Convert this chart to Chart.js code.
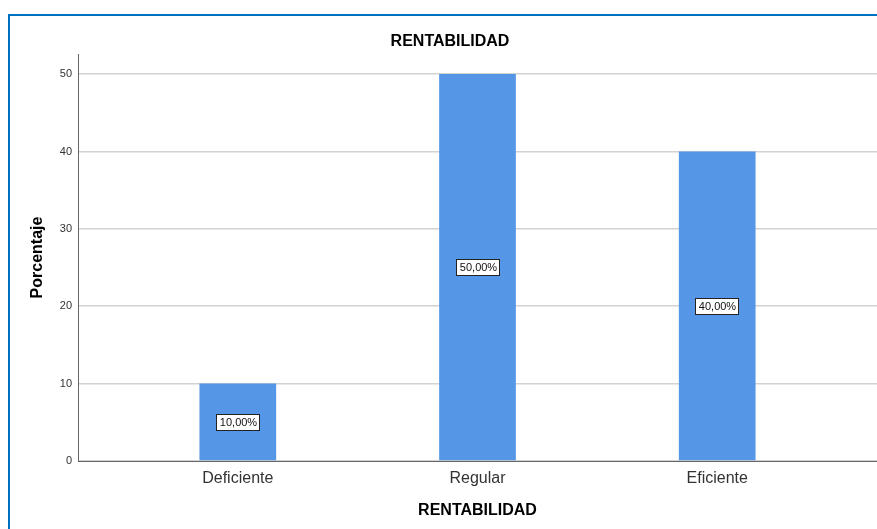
<!DOCTYPE html>
<html>
<head>
<meta charset="utf-8">
<script src="https://cdn.jsdelivr.net/npm/chart.js@4"></script>
<style>
  body { margin: 0; background: #fff; overflow: hidden; }
  #frame { position: absolute; left: 8px; top: 14px; width: 900px; height: 600px;
           border-left: 2px solid #0070C0; border-top: 2px solid #0070C0; }
  #wrap { position: absolute; left: 0; top: 0; width: 877px; height: 529px; }
</style>
</head>
<body>
<div id="frame"></div>
<div id="wrap"><canvas id="myChart"></canvas></div>
<script>
var chartTitle = 'RENTABILIDAD';
var xTitle = 'RENTABILIDAD';
var yTitle = 'Porcentaje';
var categories = ['Deficiente', 'Regular', 'Eficiente'];
var percentages = [10, 50, 40];
var yTicks = [0, 10, 20, 30, 40, 50];

var fam = '"Liberation Sans", Arial, sans-serif';

// main title, centred on the whole spss frame rather than the canvas
var topTitle = {
  id: 'topTitle',
  afterDraw: function(chart) {
    var ctx = chart.ctx;
    ctx.save();
    ctx.font = 'bold 16px ' + fam;
    ctx.fillStyle = '#000';
    ctx.textAlign = 'center';
    ctx.textBaseline = 'middle';
    ctx.fillText(chartTitle, 450, 42);
    ctx.restore();
  }
};

// boxed percentage labels in the middle of each bar
var barLabels = {
  id: 'barLabels',
  afterDatasetsDraw: function(chart) {
    var ctx = chart.ctx;
    var meta = chart.getDatasetMeta(0);
    ctx.save();
    ctx.font = '11px ' + fam;
    ctx.textAlign = 'center';
    ctx.textBaseline = 'middle';
    meta.data.forEach(function(bar, i) {
      var text = percentages[i].toFixed(2).replace('.', ',') + '%';
      var cy = Math.round((bar.y + bar.base) / 2);
      var cx = Math.round(bar.x);
      var w = Math.round(ctx.measureText(text).width) + 6;
      var h = 16;
      var left = cx - Math.round(w / 2);
      var top = cy - h / 2;
      ctx.fillStyle = '#fff';
      ctx.fillRect(left, top, w, h);
      ctx.strokeStyle = '#222';
      ctx.lineWidth = 1;
      ctx.strokeRect(left + 0.5, top + 0.5, w, h);
      ctx.fillStyle = '#111';
      ctx.fillText(text, cx + 0.5, cy + 1);
    });
    ctx.restore();
  }
};

var points = categories.map(function(c, i) {
  return { x: i, y: percentages[i] };
});

var ctx = document.getElementById('myChart').getContext('2d');
var chart = new Chart(ctx, {
  type: 'bar',
  data: {
    datasets: [{
      label: yTitle,
      data: points,
      backgroundColor: '#5596E6',
      borderWidth: 0,
      barPercentage: 0.32,
      categoryPercentage: 1
    }]
  },
  plugins: [topTitle, barLabels],
  options: {
    responsive: true,
    maintainAspectRatio: false,
    animation: false,
    devicePixelRatio: 1,
    layout: { padding: { top: 54, left: 0, right: 0, bottom: 0 } },
    plugins: {
      legend: { display: false },
      tooltip: { enabled: false },
      title: { display: false }
    },
    scales: {
      x: {
        type: 'linear',
        offset: false,
        min: -2 / 3,
        max: 8 / 3,
        z: 1,
        afterBuildTicks: function(scale) {
          scale.ticks = categories.map(function(c, i) { return { value: i }; });
        },
        afterFit: function(scale) { scale.height = 68; },
        ticks: {
          callback: function(v) { return categories[v]; },
          font: { size: 16, family: fam },
          color: '#333',
          padding: 8,
          autoSkip: false,
          maxRotation: 0
        },
        grid: { display: false, drawTicks: false },
        border: { color: '#666', width: 1 },
        title: {
          display: true,
          text: xTitle,
          color: '#000',
          font: { size: 16, weight: 'bold', family: fam },
          padding: { top: 0, bottom: 9 }
        }
      },
      y: {
        min: 0,
        max: 52.6,
        afterBuildTicks: function(scale) {
          scale.ticks = yTicks.map(function(v) { return { value: v }; });
        },
        afterFit: function(scale) { scale.width = 78; },
        ticks: {
          font: { size: 11, family: fam },
          color: '#333',
          padding: 6
        },
        grid: { color: '#d2d2d2', lineWidth: 1.5, drawTicks: false },
        border: { color: '#666', width: 1 },
        title: {
          display: true,
          text: yTitle,
          color: '#000',
          font: { size: 16, weight: 'bold', family: fam },
          padding: { top: 28, bottom: 0 }
        }
      }
    }
  }
});
</script>
</body>
</html>
